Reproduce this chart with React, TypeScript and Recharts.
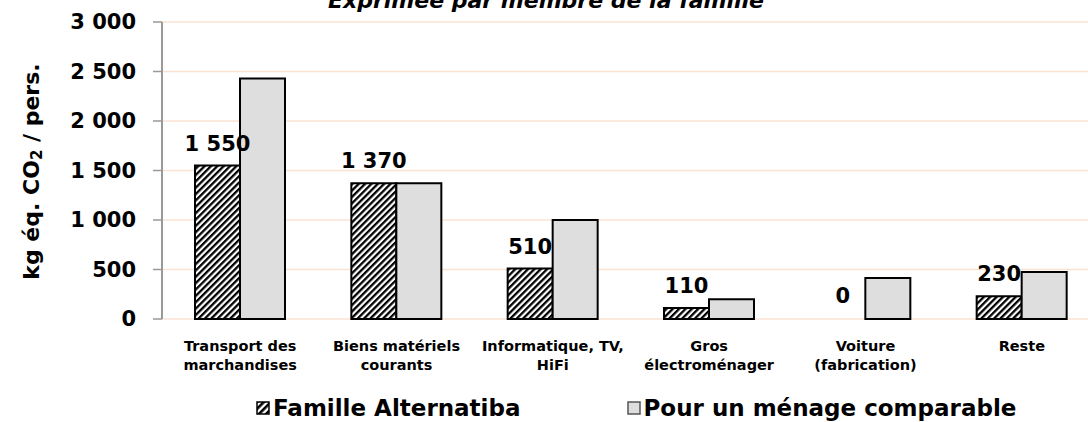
import { BarChart, Bar, XAxis, YAxis, CartesianGrid, LabelList, Rectangle } from 'recharts';

const categories = [
  'Transport des\nmarchandises',
  'Biens matériels\ncourants',
  'Informatique, TV,\nHiFi',
  'Gros\nélectroménager',
  'Voiture\n(fabrication)',
  'Reste',
];
const familleAlternatiba = [1550, 1370, 510, 110, 0, 230];
const menageComparable = [2430, 1370, 1000, 200, 415, 475];
const yTicks = [0, 500, 1000, 1500, 2000, 2500, 3000];
const boundaryTicks = [0, 1, 2, 3, 4, 5, 6];

const data = categories.map((name, i) => ({
  name,
  famille: familleAlternatiba[i],
  menage: menageComparable[i],
}));

const FONT = '"DejaVu Sans", sans-serif';

// espace insécable pour garder "1 550" sur une ligne
const formatNumber = (v: number) =>
  v >= 1000 ? `${Math.floor(v / 1000)}\u00a0${String(v % 1000).padStart(3, '0')}` : String(v);

const CategoryTick = ({ x, y, payload }: any) => {
  const lines = String(payload.value).split('\n');
  return (
    <text x={x} y={y} textAnchor="middle" fontFamily={FONT} fontSize={14.5} fontWeight="bold" fill="#000">
      {lines.map((line, i) => (
        <tspan key={i} x={x} dy={i === 0 ? 24 : 19}>
          {line}
        </tspan>
      ))}
    </text>
  );
};

const YAxisTitle = ({ viewBox }: any) => {
  const cx = 31;
  const cy = viewBox.y + viewBox.height / 2 + 1;
  return (
    <text
      x={cx}
      y={cy}
      transform={`rotate(-90 ${cx} ${cy})`}
      textAnchor="middle"
      dominantBaseline="central"
      fontFamily={FONT}
      fontSize={22}
      fontWeight="bold"
      fill="#000"
    >
      kg éq. CO<tspan fontSize={15} dy={6}>2</tspan>
      <tspan dy={-6}> / pers.</tspan>
    </text>
  );
};

// barre à 0 : pas de trait, mais on garde l'étiquette
const FamilleShape = (props: any) =>
  props.payload?.famille === 0 ? <g /> : <Rectangle {...props} />;

export default function App() {
  return (
    <div style={{ position: 'absolute', left: 0, top: 0, width: 1088, height: 422, overflow: 'hidden', background: '#fff' }}>
      <svg width={0} height={0} style={{ position: 'absolute' }}>
        <defs>
          <pattern id="hatch" patternUnits="userSpaceOnUse" width={4.5} height={4.5} patternTransform="rotate(45)">
            <rect x={0} y={0} width={4.5} height={4.5} fill="#fff" />
            <rect x={0} y={0} width={2.3} height={4.5} fill="#000" />
          </pattern>
          <pattern id="hatchBig" patternUnits="userSpaceOnUse" width={5} height={5} patternTransform="rotate(45)">
            <rect x={0} y={0} width={5} height={5} fill="#fff" />
            <rect x={0} y={0} width={2.6} height={5} fill="#000" />
          </pattern>
        </defs>
      </svg>
      <div
        style={{
          position: 'absolute',
          left: 546,
          top: -10,
          transform: 'translateX(-50%)',
          fontFamily: FONT,
          fontSize: 22,
          fontWeight: 'bold',
          fontStyle: 'italic',
          whiteSpace: 'nowrap',
          lineHeight: '22px',
        }}
      >
        Exprimée par membre de la famille
      </div>
      <BarChart
        width={1100}
        height={422}
        data={data}
        margin={{ top: 22, right: 0, left: 0, bottom: 43 }}
        barSize={45}
        barGap={0}
      >
        <CartesianGrid horizontal vertical={false} stroke="#fbe3d3" strokeWidth={1.5} />
        <XAxis
          xAxisId={0}
          type="number"
          domain={[0, 6]}
          ticks={boundaryTicks}
          allowDataOverflow
          height={0}
          tickSize={6}
          tickLine={{ stroke: '#999', strokeWidth: 1.5 }}
          axisLine={{ stroke: '#999', strokeWidth: 2 }}
          tickFormatter={() => ''}
        />
        <XAxis
          xAxisId="cat"
          dataKey="name"
          height={60}
          axisLine={false}
          tickLine={false}
          interval={0}
          tick={<CategoryTick />}
        />
        <YAxis
          width={162}
          domain={[0, 3000]}
          ticks={yTicks}
          tickFormatter={formatNumber}
          tick={{ fontFamily: FONT, fontSize: 21, fontWeight: 'bold', fill: '#000' }}
          tickSize={9}
          tickMargin={17}
          tickLine={{ stroke: '#999', strokeWidth: 1.5 }}
          axisLine={{ stroke: '#999', strokeWidth: 2 }}
          label={<YAxisTitle />}
        />
        <Bar
          xAxisId="cat"
          dataKey="famille"
          fill="url(#hatch)"
          stroke="#000"
          strokeWidth={2}
          minPointSize={(value: number) => (value === 0 ? 1 : 0)}
          shape={<FamilleShape />}
          isAnimationActive={false}
        >
          <LabelList
            dataKey="famille"
            position="top"
            offset={15}
            formatter={(v: any) => formatNumber(Number(v))}
            style={{ fontFamily: FONT, fontSize: 21, fontWeight: 'bold', fill: '#000' }}
          />
        </Bar>
        <Bar xAxisId="cat" dataKey="menage" fill="#dedede" stroke="#000" strokeWidth={2} isAnimationActive={false} />
      </BarChart>
      <div
        style={{
          position: 'absolute',
          top: 395,
          left: 256,
          display: 'flex',
          alignItems: 'center',
          fontFamily: FONT,
          fontSize: 23,
          fontWeight: 'bold',
          whiteSpace: 'nowrap',
        }}
      >
        <svg width={14} height={14} style={{ marginRight: 3 }}>
          <rect x={1} y={1} width={12} height={12} fill="url(#hatchBig)" stroke="#000" strokeWidth={1.5} />
        </svg>
        <span>Famille Alternatiba</span>
        <svg width={14} height={14} style={{ marginLeft: 106, marginRight: 3 }}>
          <rect x={1} y={1} width={12} height={12} fill="#dedede" stroke="#555" strokeWidth={1.5} />
        </svg>
        <span>Pour un ménage comparable</span>
      </div>
    </div>
  );
}
